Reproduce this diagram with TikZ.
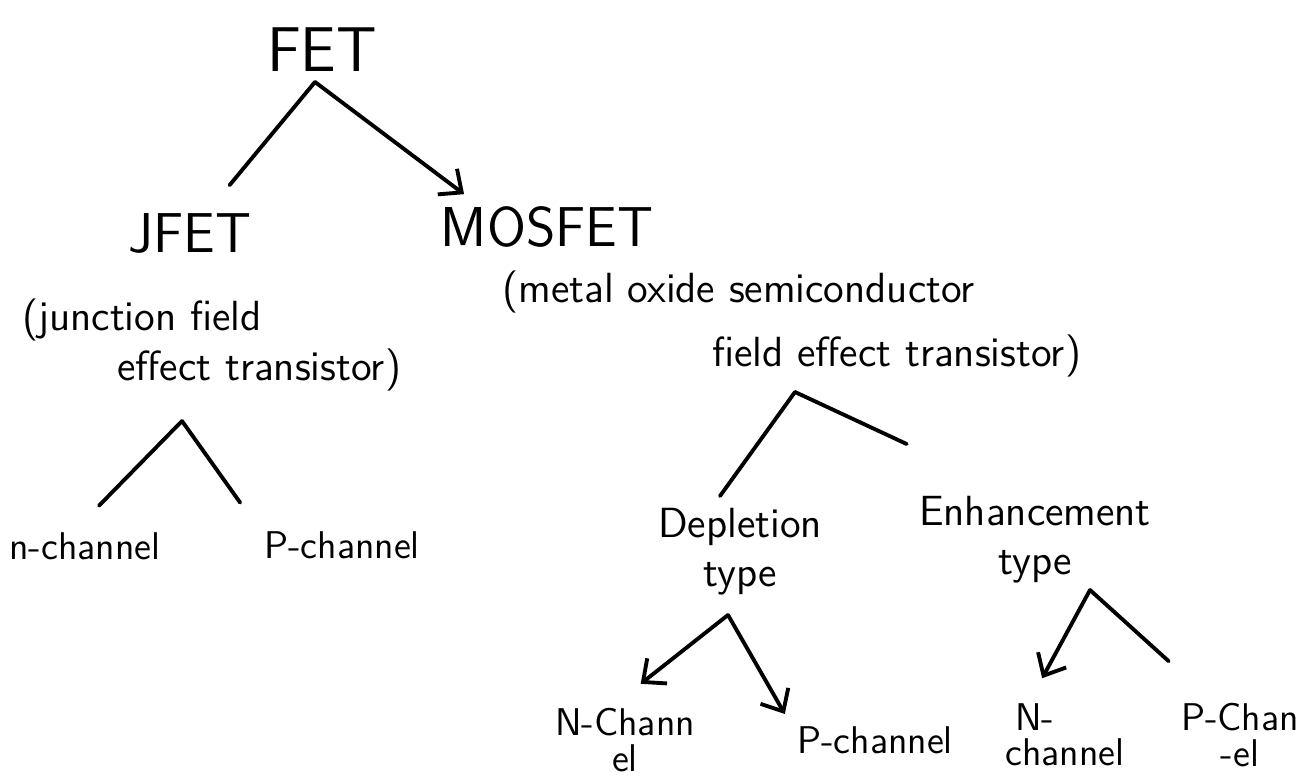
\documentclass[tikz,border=0pt]{standalone}
\usetikzlibrary{arrows.meta,calc,positioning}

\begin{document}
\begin{tikzpicture}[
		big/.style={font=\sffamily\fontsize{18}{20}\selectfont},
		kind/.style={font=\sffamily\fontsize{16}{18}\selectfont},
		note/.style={font=\sffamily\fontsize{12}{14}\selectfont, align=left, anchor=west},
		sort/.style={font=\sffamily\fontsize{12}{14}\selectfont, align=center},
		leaf/.style={font=\sffamily\fontsize{11}{10}\selectfont, align=center},
		branch/.style={line width=1.1pt, line cap=round, line join=round},
		arr/.style={branch, -{Straight Barb[length=1.8mm,width=3.2mm]}}
	]
			%\draw[help lines] (0, -7.8) grid (13.07, 0);
			\useasboundingbox (0,0) rectangle (13.07,-7.80);

			\node[big] (fet) at (3.22,-0.50) {FET};
			\coordinate (fetApex) at (3.15,-0.82);

			\node[kind] (jfet)   at (1.90,-2.33) {JFET};
			\node[kind] (mosfet) at (5.47,-2.27) {MOSFET};

			\draw[branch,shorten >=2mm] (fetApex) -- (jfet);
			\draw[arr] (fetApex) -- ($(mosfet.north west)!0.15!(mosfet.north east)$);

			\node[note] (jfetFull) at (0.10,-3.45) {(junction field\\\hspace*{9.5mm}effect transistor)};
			\node[note,font=\sffamily\fontsize{12}{18}\selectfont] (mosFull) at (4.90,-3.24) {(metal oxide semiconductor\\\hspace*{21mm}field effect transistor)};

			% JFET branch
			\coordinate (jfetApex) at (1.82,-4.21);
			\node[leaf] (jn) at (0.85,-5.46) {n-channel};
			\node[leaf] (jp) at (3.42,-5.45) {P-channel};

			\draw[branch,shorten >=2mm] (jfetApex) -- (jn.north);
			\draw[branch,shorten >=2mm] (jfetApex) -- (jp.north west);

			% MOSFET branch
			\coordinate (mosApex) at (7.95,-3.92);
			\node[sort] (dep) at (7.40,-5.52) {Depletion\\type};
			\node[sort] (enh) at (10.35,-5.40) {Enhancement\\type};

			\draw[branch] (mosApex) -- ([xshift=-2mm]dep.north);
			\draw[branch] (mosApex) -- ([yshift=4mm]enh.north west);

			\coordinate (depApex) at (7.28,-6.15);
			\node[leaf] (dn) at (6.25,-7.40) {N-Chann\\el};
			\node[leaf] (dp) at (8.75,-7.40) {P-channel};

			\draw[arr,shorten >=2mm] (depApex) -- (dn.north);
			\draw[arr] (depApex) -- (dp.north west);

			\coordinate (enhApex) at (10.90,-5.90);
			\node[leaf] (en) at (10.65,-7.35) {N-\hspace*{6mm}\\channel};
			\node[leaf] (ep) at (12.40,-7.35) {P-Chan\\-el};

			\draw[arr,shorten >=1.5mm] (enhApex) -- ([xshift=-3mm]en.north);
			\draw[branch] (enhApex) -- ([yshift=3mm]ep.north west);
		\end{tikzpicture}
\end{document}
